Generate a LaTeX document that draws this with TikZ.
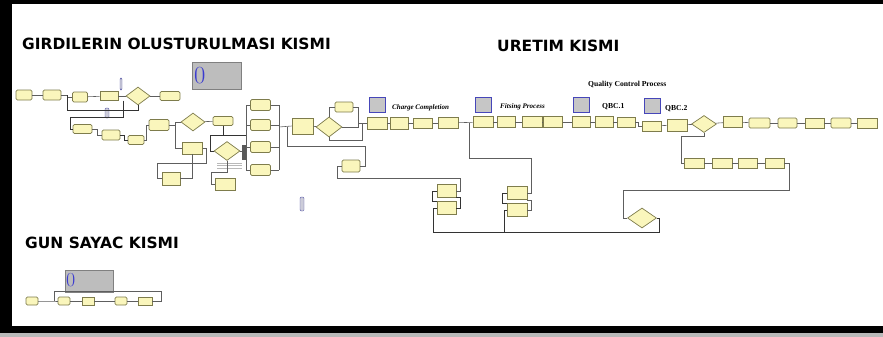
\documentclass[tikz,border=0pt]{standalone}
\usepackage{fontspec}
\usepackage{xcolor}
\usetikzlibrary{shapes.geometric}
\newfontfamily\headfont{DejaVu Sans}
\newfontfamily\notefont{Liberation Serif}
\definecolor{modFill}{HTML}{FAF6BC}
\definecolor{modEdge}{HTML}{7E7C4C}
\definecolor{wireGray}{HTML}{5E5E5E}
\definecolor{dispGray}{HTML}{BDBDBD}
\definecolor{zeroBlue}{HTML}{3A3AD0}

\begin{document}
\begin{tikzpicture}[x=0.03cm,y=-0.03cm,
    sz/.style 2 args={minimum width=#1*0.03cm,minimum height=#2*0.03cm},
    modbox/.style={draw=modEdge,fill=modFill,rounded corners=1.2pt,line width=0.6pt,
      inner sep=0pt,sz={19}{10}},
    decide/.style={diamond,draw=modEdge,fill=modFill,line width=0.6pt,inner sep=0pt,
      aspect=1.3,sz={24}{18}},
    plain/.style={draw=modEdge,fill=modFill,line width=0.5pt,inner sep=0pt,sz={19}{12}},
    wire/.style={draw=wireGray,line width=0.5pt},
    dark/.style={draw=black!80,line width=0.7pt},
    display/.style={draw=gray,fill=dispGray,line width=0.4pt,inner sep=0pt},
    queuepic/.style={draw=blue!45!gray,fill=gray!45,line width=0.6pt,inner sep=0pt,sz={16}{15}},
    capsule/.style={draw=gray!70!blue,fill=blue!15!gray!35,rounded corners=1pt,
      line width=0.4pt,inner sep=0pt},
    head/.style={anchor=base west,inner sep=0pt,font=\headfont\bfseries\fontsize{13.2}{15}\selectfont},
    note/.style={anchor=base west,inner sep=0pt,font=\notefont\bfseries\fontsize{6.5}{7}\selectfont}]
  \useasboundingbox (0,0) rectangle (883,337);
  % frame of the screenshot
  \fill[black] (0,0) rectangle (883,4);
  \fill[black] (0,0) rectangle (12,333);
  \fill[black] (0,326) rectangle (883,333);
  \fill[gray!55] (0,333) rectangle (883,337);

  % titles
  \node[head] (titleIn) at (22,50) {GIRDILERIN OLUSTURULMASI KISMI};
  \node[head] (titleProd) at (497,51) {URETIM KISMI};
  \node[head] (titleDay) at (25,248) {GUN SAYAC KISMI};
  \node[note] (qcTitle) at (588,86) {Quality Control Process};
  \node[note,font=\notefont\bfseries\itshape\fontsize{6}{7}\selectfont] (chargeTitle) at (392,109) {Charge Completion};
  \node[note,font=\notefont\bfseries\itshape\fontsize{6}{7}\selectfont] (fitTitle) at (500,108) {Fitsing Process};
  \node[note] (qbcOne) at (602,108) {QBC.1};
  \node[note] (qbcTwo) at (665,110) {QBC.2};

  % variable displays
  \node[display,sz={49}{27}] (dispIn) at (216.5,75.5) {};
  \node[anchor=west,inner sep=0pt,text=zeroBlue,font=\fontsize{21}{21}\selectfont] (zeroIn) at (194,76) {0};
  \node[display,sz={48}{22}] (dispDay) at (89,281) {};
  \node[anchor=west,inner sep=0pt,text=zeroBlue,font=\fontsize{17}{17}\selectfont] (zeroDay) at (66,280) {0};

  % queue / resource pictures
  \node[queuepic] (picCharge) at (377,105) {};
  \node[queuepic] (picFit) at (483,105) {};
  \node[queuepic] (picQbcA) at (581,105) {};
  \node[queuepic] (picQbcB) at (652,106) {};
  \node[capsule,sz={2}{12}] (capA) at (121,84) {};
  \node[capsule,sz={4}{10}] (capB) at (107,113) {};
  \node[capsule,sz={4}{14}] (capC) at (302,204) {};

  % input part
  \node[modbox,sz={16}{10}] (in1) at (24,95) {};
  \node[modbox,sz={18}{10}] (in2) at (52,95) {};
  \node[modbox,sz={15}{10}] (in3) at (80,97) {};
  \node[plain,sz={18}{9}] (in4) at (109,96) {};
  \node[decide] (dIn) at (138,96) {};
  \node[modbox,sz={20}{9}] (in5) at (170,96) {};
  \node[modbox,sz={19}{9}] (rw1) at (82.5,129) {};
  \node[modbox,sz={18}{10}] (rw2) at (111,135) {};
  \node[modbox,sz={16}{9}] (rw3) at (136,140) {};
  \node[modbox,sz={20}{11}] (rw4) at (159,125) {};
  \node[decide] (dMid) at (193,122) {};
  \node[modbox,sz={20}{9}] (rw5) at (223,121) {};
  \node[plain,sz={20}{12}] (rw6) at (192.5,148) {};
  \node[plain,sz={18}{13}] (rw7) at (171,178.5) {};
  \node[decide,sz={26}{19}] (dLow) at (227,151) {};
  \node[plain,sz={20}{12}] (rw8) at (225,184) {};
  \node[modbox,sz={20}{11}] (col1) at (260.5,105) {};
  \node[modbox,sz={20}{11}] (col2) at (260.5,125) {};
  \node[modbox,sz={20}{11}] (col3) at (260.5,147) {};
  \node[modbox,sz={20}{11}] (col4) at (260.5,170) {};
  \fill[gray!55] (217,163) rectangle (242,169);
  \foreach \yy in {164.5,166,167.5}
    \draw[white,line width=0.3pt] (217,\yy) -- (242,\yy);

  % production part
  \node[plain,sz={21}{16}] (tall) at (302.5,126) {};
  \node[decide,sz={26}{20}] (dCharge) at (329,127) {};
  \node[modbox,sz={18}{10}] (up1) at (344,107) {};
  \node[modbox,sz={18}{12}] (low1) at (351,166) {};
  \node[plain,sz={20}{12}] (ch1) at (377,123) {};
  \node[plain,sz={18}{12}] (ch2) at (399,123) {};
  \node[plain,sz={19}{10}] (ch3) at (423,123) {};
  \node[plain,sz={20}{11}] (ch4) at (448,123) {};
  \node[plain,sz={20}{11}] (fit1) at (483,122) {};
  \node[plain,sz={18}{11}] (fit2) at (506,122) {};
  \node[plain,sz={20}{11}] (fit3) at (532,122) {};
  \node[plain,sz={19}{11}] (fit4) at (553,122) {};
  \node[plain,sz={18}{11}] (qc1) at (581,122) {};
  \node[plain,sz={18}{11}] (qc2) at (604,122) {};
  \node[plain,sz={18}{10}] (qc3) at (626,122) {};
  \node[plain,sz={19}{10}] (qc4) at (652,126) {};
  \node[plain,sz={20}{12}] (qc5) at (677,125) {};
  \node[decide,sz={25}{17}] (dQc) at (704,124) {};
  \node[plain,sz={19}{11}] (out1) at (733,122) {};
  \node[modbox,sz={21}{10}] (out2) at (759.5,123) {};
  \node[modbox,sz={19}{10}] (out3) at (787.5,123) {};
  \node[plain,sz={19}{10}] (out4) at (814.5,123) {};
  \node[modbox,sz={20}{10}] (out5) at (841,123) {};
  \node[plain,sz={20}{10}] (out6) at (867,123) {};
  \node[plain,sz={20}{10}] (rep1) at (694,163) {};
  \node[plain,sz={20}{10}] (rep2) at (722,163) {};
  \node[plain,sz={19}{10}] (rep3) at (747.5,163) {};
  \node[plain,sz={19}{10}] (rep4) at (774.5,163) {};
  \node[decide,sz={29}{20}] (dBack) at (642,218) {};
  \node[plain,sz={19}{13}] (pa1) at (446.5,191) {};
  \node[plain,sz={19}{13}] (pa2) at (446.5,208) {};
  \node[plain,sz={20}{13}] (pb1) at (517,193) {};
  \node[plain,sz={20}{13}] (pb2) at (517,210) {};

  % day counter part
  \node[modbox,sz={12}{8}] (day1) at (32,301) {};
  \node[modbox,sz={12}{8}] (day2) at (64,301) {};
  \node[plain,sz={12}{8}] (day3) at (88,301) {};
  \node[modbox,sz={12}{8}] (day4) at (121,301) {};
  \node[plain,sz={14}{8}] (day5) at (145,301) {};

  % connectors, input part
  \draw[wire] (in1) -- (in2);
  \draw[wire] (in2.east) -- (67,95) |- (in3.west);
  \draw[dark] (67,95) |- (138,110) -- (dIn.south);
  \draw[wire] (in3) -- (in4);
  \draw[wire] (in4) -- (dIn);
  \draw[wire] (dIn) -- (in5);
  \draw[dark] (123,100.5) -- (123,117) -- (70,117) |- (rw1.west);
  \draw[wire] (rw1.east) -- (97,129) |- (rw2.west);
  \draw[dark] (rw2.east) -- (124,135) |- (rw3.west);
  \draw[wire] (rw3.east) -- (146,140) |- (rw4.west);
  \draw[wire] (rw4.east) -- (175,125) |- (dMid.west);
  \draw[wire] (175,122) |- (rw6.west);
  \draw[wire] (dMid) -- (rw5);
  \draw[wire] (rw6.east) -- (206,148) |- (157,163) |- (rw7.west);
  \draw[wire] (rw6.south) |- (rw7.east);
  \draw[dark] (rw5.south) |- (210,135) |- (dLow.west);
  \draw[dark] (210,135) -- (246,135);
  \draw[wire] (dLow.south) -- (227,172) -| (211,184) -- (rw8.west);
  \draw[wire] (dLow.east) -- (246,151);
  \fill[gray!70!black] (242,145) rectangle (247,160);
  \draw[wire] (246,105) -- (246,170);
  \draw[wire] (279,105) -- (279,170);
  \foreach \c in {col1,col2,col3,col4} {
    \draw[wire] (\c.west) -- (\c.west -| 246,0);
    \draw[wire] (\c.east) -- (\c.east -| 279,0);
  }

  % connectors, production part
  \draw[wire] (279,127) -- (tall.west);
  \draw[wire] (tall) -- (dCharge);
  \draw[wire] (dCharge.east) -- (358,127) |- (ch1.west);
  \draw[wire] (dCharge.north) |- (up1.west);
  \draw[wire] (up1.east) -- (358,107) -- (358,123);
  \draw[wire] (dCharge.south) |- (362,140) -- (362,123);
  \draw[wire] (287,127) |- (365,146) |- (low1.east);
  \draw[wire] (low1.west) -- (337,166) |- (460,178) |- (pa1.east);
  \draw[wire] (ch1) -- (ch2);
  \draw[wire] (ch2) -- (ch3);
  \draw[wire] (ch3) -- (ch4);
  \draw[wire] (ch4) -- (fit1);
  \draw[wire] (469,123) |- (531,158) -- (531,193) -- (pb1.east);
  \draw[wire] (fit1) -- (fit2);
  \draw[wire] (fit2) -- (fit3);
  \draw[wire] (fit3) -- (fit4);
  \draw[wire] (fit4) -- (qc1);
  \draw[wire] (qc1) -- (qc2);
  \draw[wire] (qc2) -- (qc3);
  \draw[wire] (qc3.east) -- (638,122) |- (qc4.west);
  \draw[wire] (qc4) -- (qc5);
  \draw[wire] (qc5) -- (dQc);
  \draw[wire] (dQc) -- (out1);
  \draw[wire] (out1) -- (out2);
  \draw[wire] (out2) -- (out3);
  \draw[wire] (out3) -- (out4);
  \draw[wire] (out4) -- (out5);
  \draw[wire] (out5) -- (out6);
  \draw[wire] (dQc.south) -- (704,136) -| (681,163) -- (rep1.west);
  \draw[wire] (rep1) -- (rep2);
  \draw[wire] (rep2) -- (rep3);
  \draw[wire] (rep3) -- (rep4);
  \draw[wire] (rep4.east) -- (789,163) |- (623,190) |- (dBack.west);
  \draw[dark] (dBack.east) -- (659,218) |- (433,232) |- (pa2.west);
  \draw[dark] (504,232) |- (pb2.west);
  \draw[dark] (pa1.west) -- ++(-4,0) |- (pa2.north west);
  \draw[dark] (pa1.south east) -- ++(4,0) |- (pa2.east);
  \draw[dark] (pb1.west) -- ++(-4,0) |- (pb2.north west);
  \draw[wire] (pb1.south east) -- ++(4,0) |- (pb2.east);

  % connectors, day counter
  \draw[wire] (day1.east) -- (54,301) -- (day2.west);
  \draw[wire] (day2) -- (day3);
  \draw[wire] (day3) -- (day4);
  \draw[wire] (day4) -- (day5);
  \draw[wire] (day5.east) -- (161,301) |- (54,291) -- (54,301);
\end{tikzpicture}
\end{document}
